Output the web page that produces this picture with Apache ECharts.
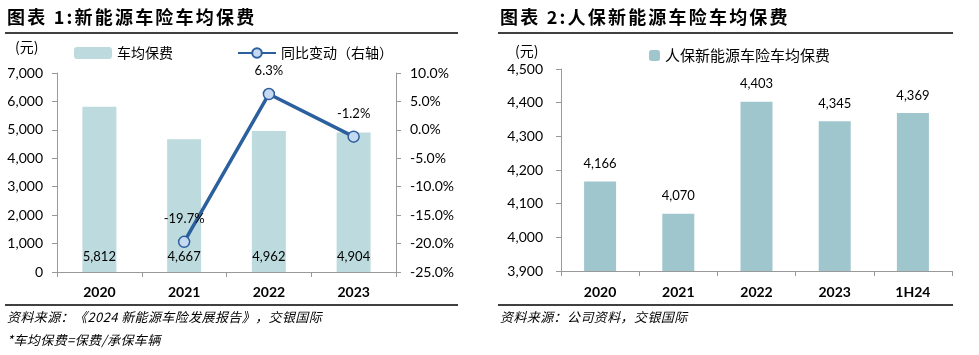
<!DOCTYPE html>
<html><head><meta charset="utf-8">
<script src="https://cdn.jsdelivr.net/npm/echarts@6/dist/echarts.min.js"></script>
<style>html,body{margin:0;padding:0;background:#fff}#c{width:979px;height:355px}</style>
</head><body><div id="c"></div>
<script>
// Chart 1 data
const years1 = ['2020', '2021', '2022', '2023'];
const premium1 = [5812, 4667, 4962, 4904];
const yoy1 = [null, -19.7, 6.3, -1.2];
// Chart 2 data
const years2 = ['2020', '2021', '2022', '2023', '1H24'];
const premium2 = [4166, 4070, 4403, 4345, 4369];

const LAT = 'Lato, "Open Sans", sans-serif';
const CJK = '"Noto Sans CJK SC", sans-serif';
const axisColor = '#999';
const fmt = v => v.toLocaleString('en-US');

const chart = echarts.init(document.getElementById('c'), null, {renderer: 'canvas'});
const ctx = document.createElement('canvas').getContext('2d');
const txt = (x, y, s, o) => ({type: 'text', x: x, y: y, style: Object.assign({text: s, fill: '#000', font: '13px ' + CJK, textVerticalAlign: 'middle'}, o || {})});
// text with letter spacing: one element per character, still real text
const spaced = (x, y, s, font, ls) => {
  ctx.font = font;
  const out = [];
  let cx = x;
  for (const ch of s) {
    out.push(txt(cx, y, ch, {font: font}));
    cx += ctx.measureText(ch).width + ls;
  }
  return {type: 'group', children: out};
};
const line = (x1, y1, x2) => ({type: 'line', shape: {x1: x1, y1: y1, x2: x2, y2: y1}, style: {stroke: '#000', lineWidth: 1.5}});

const axisBase = {
  axisLine: {show: true, lineStyle: {color: axisColor}},
  axisTick: {show: true, length: 5, lineStyle: {color: axisColor}},
  splitLine: {show: false},
  axisLabel: {color: '#000', fontFamily: LAT, fontSize: 14}
};

chart.setOption({
  animation: false,
  grid: [
    {left: 57, right: 583, top: 73, bottom: 83},
    {left: 561, right: 27, top: 69, bottom: 84}
  ],
  legend: [
    {left: 69, top: 41, itemWidth: 38, itemHeight: 12, itemGap: 64, data: ['车均保费', '同比变动（右轴）'],
     textStyle: {fontFamily: CJK, fontSize: 14, color: '#000'}},
    {left: 644, top: 43, itemWidth: 11, itemHeight: 11, data: ['人保新能源车险车均保费'],
     textStyle: {fontFamily: CJK, fontSize: 15, color: '#000'}}
  ],
  xAxis: [
    Object.assign({}, axisBase, {type: 'category', gridIndex: 0, data: years1,
      axisLabel: {color: '#000', fontFamily: LAT, fontSize: 14, fontWeight: 'bold', margin: 13}}),
    Object.assign({}, axisBase, {type: 'category', gridIndex: 1, data: years2,
      axisLabel: {color: '#000', fontFamily: LAT, fontSize: 14, fontWeight: 'bold', margin: 14}})
  ],
  yAxis: [
    Object.assign({}, axisBase, {type: 'value', gridIndex: 0, min: 0, max: 7000, interval: 1000,
      axisLabel: {color: '#000', fontFamily: LAT, fontSize: 14, margin: 14, formatter: v => fmt(v)}}),
    Object.assign({}, axisBase, {type: 'value', gridIndex: 0, position: 'right', min: -25, max: 10, interval: 5,
      axisLabel: {color: '#000', fontFamily: LAT, fontSize: 14, margin: 14, formatter: v => v.toFixed(1) + '%'}}),
    Object.assign({}, axisBase, {type: 'value', gridIndex: 1, min: 3900, max: 4500, interval: 100,
      axisLabel: {color: '#000', fontFamily: LAT, fontSize: 14, margin: 18, formatter: v => fmt(v)}})
  ],
  series: [
    {name: '车均保费', type: 'bar', xAxisIndex: 0, yAxisIndex: 0, data: premium1, barWidth: 34,
     itemStyle: {color: '#bddbde'},
     label: {show: true, position: 'insideBottom', distance: 9, color: '#000', fontFamily: LAT, fontSize: 13, formatter: p => fmt(p.value)}},
    {name: '同比变动（右轴）', type: 'line', xAxisIndex: 0, yAxisIndex: 1, data: yoy1,
     lineStyle: {color: '#2c5f9e', width: 3.5}, symbol: 'circle', symbolSize: 11,
     itemStyle: {color: '#c5d9f1', borderColor: '#2c5f9e', borderWidth: 1.5},
     label: {show: true, position: 'top', distance: 10, color: '#000', fontFamily: LAT, fontSize: 13, formatter: p => p.value.toFixed(1) + '%'},
     z: 5},
    {name: '人保新能源车险车均保费', type: 'bar', xAxisIndex: 1, yAxisIndex: 2, data: premium2, barWidth: 32,
     itemStyle: {color: '#9fc6cc'},
     label: {show: true, position: 'top', distance: 11, color: '#000', fontFamily: LAT, fontSize: 13, formatter: p => fmt(p.value)}}
  ],
  graphic: [
    spaced(7, 17, '图表 1:新能源车险车均保费', 'bold 18px ' + CJK, 2.2),
    spaced(500, 17, '图表 2:人保新能源车险车均保费', 'bold 18px ' + CJK, 2.2),
    line(5, 33, 458),
    line(498, 33, 953),
    line(5, 305, 458),
    line(498, 305, 953),
    txt(15, 47, '(元)', {font: '14px ' + CJK}),
    txt(515, 51, '(元)', {font: '14px ' + CJK}),
    spaced(7, 317, '资料来源：《2024 新能源车险发展报告》，交银国际', 'italic 13px ' + CJK, 0.4),
    spaced(7, 340, '*车均保费=保费/承保车辆', 'italic 13px ' + CJK, 0.4),
    spaced(500, 317, '资料来源：公司资料，交银国际', 'italic 13px ' + CJK, 0.4)
  ]
});
</script></body></html>
